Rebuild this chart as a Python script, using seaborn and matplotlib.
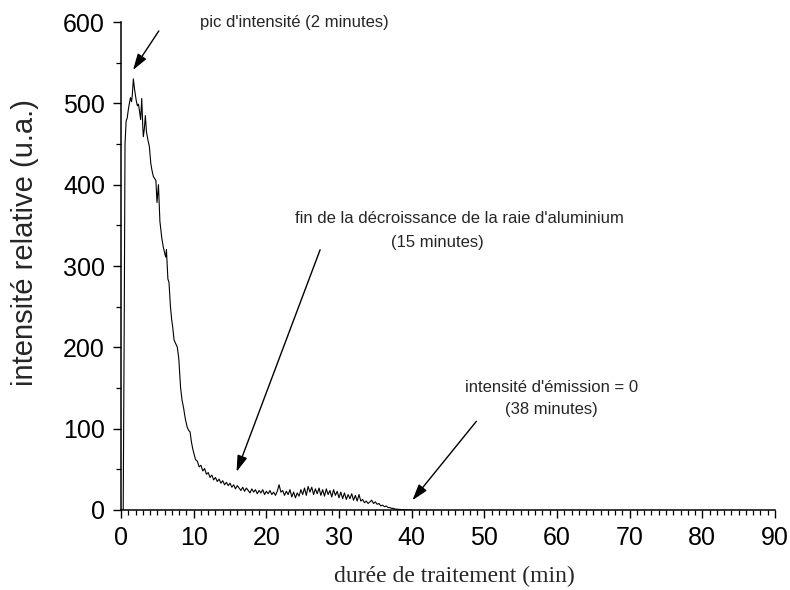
import numpy as np
import pandas as pd
import matplotlib
matplotlib.use("Agg")
import matplotlib.pyplot as plt
from matplotlib.ticker import MultipleLocator
import seaborn as sns

# ---- data (time in minutes, relative intensity) ----
time_head = [0.0, 0.3, 0.45, 0.55, 0.7, 0.85, 1.0, 1.15, 1.3, 1.45, 1.55, 1.7,
             1.85, 1.95, 2.1, 2.25, 2.4, 2.55, 2.7, 2.85, 3.0, 3.07, 3.2, 3.35,
             3.5, 3.7, 3.9, 4.1, 4.25, 4.45, 4.6, 4.8, 4.95, 5.15, 5.35, 5.6,
             5.8, 6.0, 6.15, 6.25, 6.45, 6.6, 6.8, 6.97, 7.1, 7.3, 7.5, 7.75,
             7.95, 8.2, 8.4, 8.6, 8.85, 9.1, 9.3, 9.5, 9.7, 9.9, 10.1]
intensity_head = [0, 0, 250, 450, 478, 482, 492, 500, 507, 502, 510, 530,
                  518, 512, 503, 497, 499, 490, 480, 506, 470, 459, 468, 485,
                  465, 455, 447, 426, 418, 410, 408, 405, 378, 400, 355, 335,
                  324, 316, 311, 320, 284, 280, 250, 234, 226, 209, 205, 200,
                  186, 150, 135, 126, 112, 102, 98, 96, 83, 74, 67]

time_tail = [10.25, 10.5, 10.75, 11.0, 11.25, 11.5, 11.75, 12.0, 12.25, 12.5,
             12.75, 13.0, 13.25, 13.5, 13.75, 14.0, 14.25, 14.5, 14.75, 15.0,
             15.25, 15.5, 15.75, 16.0, 16.25, 16.5, 16.75, 17.0, 17.25, 17.5,
             17.75, 18.0, 18.25, 18.5, 18.75, 19.0, 19.25, 19.5, 19.75, 20.0,
             20.25, 20.5, 20.75, 21.0, 21.25, 21.5, 21.75, 22.0, 22.25, 22.5,
             22.75, 23.0, 23.25, 23.5, 23.75, 24.0, 24.25, 24.5, 24.75, 25.0,
             25.25, 25.5, 25.75, 26.0, 26.25, 26.5, 26.75, 27.0, 27.25, 27.5,
             27.75, 28.0, 28.25, 28.5, 28.75, 29.0, 29.25, 29.5, 29.75, 30.0,
             30.25, 30.5, 30.75, 31.0, 31.25, 31.5, 31.75, 32.0, 32.25, 32.5,
             32.75, 33.0, 33.25, 33.5, 33.75, 34.0, 34.25, 34.5, 34.75, 35.0,
             35.25, 35.5, 35.75, 36.0, 36.25, 36.5, 36.75, 37.0, 37.25, 37.5,
             37.75, 38.0, 38.5, 39.0, 40.0]
intensity_tail = [62, 60, 53, 55, 48, 51, 44, 46, 40, 43,
                  37, 40, 35, 38, 33, 36, 31, 34, 30, 33,
                  28, 31, 26, 30, 27, 24, 28, 23, 27, 24,
                  21, 26, 22, 25, 20, 24, 21, 25, 19, 23,
                  20, 24, 19, 22, 18, 23, 31, 22, 24, 18,
                  23, 19, 25, 16, 22, 15, 21, 17, 25, 19,
                  27, 18, 29, 22, 28, 19, 26, 20, 27, 18,
                  25, 17, 26, 19, 24, 16, 25, 18, 23, 15,
                  22, 14, 21, 13, 19, 14, 20, 12, 18, 11,
                  19, 11, 13, 9, 11, 8, 10, 12, 8, 10,
                  7, 8, 5, 6, 4, 5, 3, 3, 2, 2,
                  1, 1, 0.5, 0, 0]

x_ticks = [0, 10, 20, 30, 40, 50, 60, 70, 80, 90]
y_ticks = [0, 100, 200, 300, 400, 500, 600]

df = pd.DataFrame({"t": time_head + time_tail,
                   "I": intensity_head + intensity_tail})

# ---- style ----
sns.set_style("ticks")
plt.rcParams["font.family"] = ["Liberation Sans", "DejaVu Sans"]

fig = plt.figure(figsize=(7.9, 5.9), dpi=100)
ax = fig.add_axes([0.1532, 0.1356, 0.8278, 0.8271])

sns.lineplot(data=df, x="t", y="I", color="black", linewidth=0.8,
             estimator=None, sort=False, ax=ax)

ax.set_xlim(0, 90)
ax.set_ylim(0, 600)
ax.set_xticks(x_ticks)
ax.set_yticks(y_ticks)
ax.xaxis.set_minor_locator(MultipleLocator(1))
ax.yaxis.set_minor_locator(MultipleLocator(50))
ax.tick_params(which="major", direction="out", length=5.5, width=1.0,
               labelsize=18, pad=6, colors="black")
ax.tick_params(which="minor", direction="out", length=3.5, width=0.9,
               colors="black")
for side in ("top", "right"):
    ax.spines[side].set_visible(False)
for side in ("left", "bottom"):
    ax.spines[side].set_linewidth(1.1)
    ax.spines[side].set_color("black")

ax.set_xlabel("durée de traitement (min)", fontsize=17,
              family=["Liberation Serif", "DejaVu Serif"])
ax.xaxis.set_label_coords(0.509, -0.115)
ax.set_ylabel("intensité relative (u.a.)", fontsize=21)
ax.yaxis.set_label_coords(-0.125, 0.549)

arrow = dict(arrowstyle="-|>,head_length=0.7,head_width=0.22",
             color="black", lw=1.0, mutation_scale=14, shrinkA=0, shrinkB=0)

ax.annotate("", xy=(1.65, 541), xytext=(5.2, 589), arrowprops=arrow)
ax.text(10.9, 600, "pic d'intensité (2 minutes)", fontsize=12,
        ha="left", va="center")

ax.annotate("", xy=(15.9, 47), xytext=(27.4, 320), arrowprops=arrow)
ax.text(46.6, 359, "fin de la décroissance de la raie d'aluminium",
        fontsize=12, ha="center", va="center")
ax.text(43.5, 329, "(15 minutes)", fontsize=12, ha="center", va="center")

ax.annotate("", xy=(40.1, 12), xytext=(48.9, 109), arrowprops=arrow)
ax.text(59.2, 151, "intensité d'émission = 0", fontsize=12,
        ha="center", va="center")
ax.text(59.2, 123, "(38 minutes)", fontsize=12, ha="center", va="center")

fig.savefig("out.png", dpi=100)
